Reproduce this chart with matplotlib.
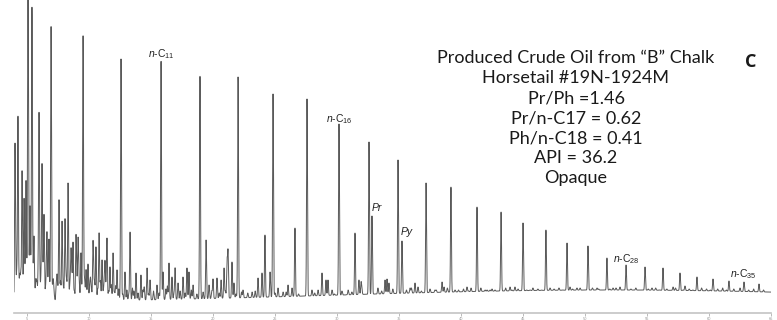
import numpy as np
import matplotlib
matplotlib.use('Agg')
import matplotlib.pyplot as plt

plt.rcParams['mathtext.fontset'] = 'custom'
plt.rcParams['mathtext.rm'] = 'Liberation Sans'
plt.rcParams['mathtext.it'] = 'Liberation Sans:italic'

# retention time (min) and apex response of the resolved peaks
main_rt = [5.08, 5.40, 6.94, 9.52, 12.58, 15.81, 18.95, 22.02, 24.84, 27.58,
           30.16, 32.58, 32.82, 34.92, 35.24, 37.18, 39.19, 41.29, 43.23, 45.00,
           46.85, 48.55, 50.24, 51.77, 53.31, 54.84, 56.29, 57.66, 59.03, 60.32,
           61.61, 62.82, 64.03]
main_h = [330, 285, 276, 262, 244, 242, 227, 226, 209, 204,
          179, 161, 87, 143, 62, 120, 116, 96, 91, 80,
          73, 60, 57, 45, 38, 36, 35, 30, 26, 24,
          22, 21, 19]

# smaller peaks between the n-alkanes
minor_rt = [4.03, 4.27, 4.60, 4.76, 4.92, 5.24, 5.56, 5.97, 6.21, 6.37,
            6.61, 6.77, 7.58, 7.82, 8.06, 8.31, 8.55, 8.71, 8.95, 9.11,
            9.35, 9.76, 9.92, 10.32, 10.56, 10.81, 11.05, 11.29, 11.45, 11.69,
            11.94, 12.26, 12.90, 13.31, 13.79, 14.19, 14.68, 14.92, 15.48, 15.97,
            16.45, 16.69, 16.94, 17.18, 17.58, 17.90, 18.06, 18.39, 19.44, 19.68,
            20.00, 20.32, 20.65, 20.89, 21.13, 21.21, 21.53, 21.69, 22.42, 23.15,
            23.63, 23.95, 24.19, 24.60, 25.24, 25.65, 26.05, 26.37, 26.61, 27.98,
            28.47, 28.79, 29.11, 29.27, 29.60, 30.65, 31.45, 31.77, 31.94, 33.87,
            34.03, 34.19, 35.89, 36.29, 36.53, 37.90, 38.47, 38.63, 39.52, 40.48,
            40.81, 41.94, 42.34, 42.74, 43.95, 44.35, 45.56, 47.18, 48.79, 49.35,
            50.97, 52.26, 52.82, 55.40, 57.10, 58.06]
minor_h = [157, 185, 131, 103, 118, 93, 65, 186, 137, 85,
           66, 61, 103, 78, 81, 120, 50, 60, 66, 55,
           50, 33, 38, 58, 56, 70, 43, 40, 63, 36,
           50, 33, 31, 71, 30, 28, 35, 23, 18, 31,
           40, 26, 35, 20, 26, 35, 31, 18, 63, 18,
           24, 25, 23, 35, 41, 51, 41, 20, 13, 11,
           25, 30, 68, 31, 15, 11, 18, 15, 75, 13,
           13, 30, 23, 23, 13, 8, 70, 23, 20, 23,
           24, 20, 15, 20, 16, 13, 21, 16, 13, 16,
           15, 13, 13, 13, 16, 16, 13, 15, 16, 15,
           15, 15, 16, 15, 16, 17]

# unresolved "grass" near the baseline in the light end
grass_rt = [4.10, 4.18, 4.35, 4.42, 4.50, 4.68, 4.85, 5.00, 5.15, 5.30,
            5.35, 5.48, 5.65, 5.72, 5.80, 5.90, 6.05, 6.13, 6.30, 6.48,
            6.55, 6.70, 6.85, 7.05, 7.12, 7.20, 7.35, 7.42, 7.48, 7.70,
            7.88, 7.95, 8.13, 8.20, 8.42, 8.48, 8.62, 8.82, 9.02, 9.16,
            9.22, 9.45, 9.58, 9.65, 9.85, 10.05, 10.12, 10.20, 10.38, 10.45,
            10.70, 10.92, 11.15, 11.22, 11.38, 11.58, 11.80, 12.05, 12.15, 12.40,
            12.72, 13.05, 13.20, 13.50, 13.62, 13.95, 14.35, 14.45, 14.80, 15.20,
            15.65, 16.20, 16.32, 16.85, 17.35, 17.75, 18.25, 18.70, 19.20, 19.90,
            20.50, 21.00, 21.85, 22.30, 22.80, 23.40, 25.00, 25.90, 26.90, 28.20,
            29.80]
grass_h = [22, 30, 15, 26, 28, 12, 25, 18, 30, 14,
           26, 24, 10, 22, 20, 28, 16, 24, 26, 12,
           21, 18, 9, 14, 22, 7, 16, 25, 11, 22,
           17, 13, 24, 19, 10, 18, 24, 12, 20, 26,
           15, 11, 19, 21, 9, 17, 23, 12, 20, 19,
           14, 22, 10, 18, 16, 12, 18, 11, 17, 14,
           9, 13, 8, 15, 12, 10, 13, 16, 9, 12,
           10, 14, 17, 9, 12, 10, 13, 9, 11, 12,
           10, 12, 9, 11, 10, 12, 10, 11, 9, 10,
           9]

# small ripples on the baseline of the heavy end
ripple_rt = [30.40, 30.90, 31.20, 32.00, 33.30, 33.60, 34.50, 35.60, 36.00, 36.80,
             37.50, 38.00, 38.90, 39.80, 40.20, 40.60, 41.60, 42.10, 42.50, 43.00,
             43.60, 44.10, 44.60, 45.30, 45.80, 46.20, 46.50, 47.50, 47.90, 48.20,
             49.00, 49.60, 49.90, 50.60, 51.10, 51.40, 52.00, 52.50, 53.00, 53.70,
             54.10, 54.50, 55.10, 55.70, 56.00, 56.60, 57.30, 57.90, 58.40, 58.70,
             59.40, 59.80, 60.10, 60.70, 61.10, 61.40, 62.00, 62.50, 63.20, 63.60,
             64.40]
ripple_h = [12, 13, 11, 14, 15, 12, 14, 13, 15, 12,
            14, 13, 15, 13, 14, 12, 15, 13, 14, 12,
            15, 13, 14, 13, 15, 14, 13, 14, 15, 13,
            14, 15, 13, 15, 14, 13, 14, 15, 13, 14,
            15, 13, 14, 15, 13, 14, 15, 13, 14, 13,
            15, 14, 13, 14, 15, 13, 14, 15, 13, 14,
            13]

# broad unresolved hump / column bleed
ucm_rt = 52.0
ucm_width = 22.0
ucm_h = 13.0

annotation = ['Produced Crude Oil from \u201cB\u201d Chalk',
              'Horsetail #19N-1924M',
              'Pr/Ph =1.46',
              'Pr/n-C17 = 0.62',
              'Ph/n-C18 = 0.41',
              'API = 36.2',
              'Opaque']

t = np.arange(3.9, 65.1, 0.004)


def hump(x):
    return ucm_h * np.exp(-0.5 * ((x - ucm_rt) / ucm_width) ** 2)


signal = hump(t)
sigma = 0.035
for rts, hs in [(main_rt, main_h), (minor_rt, minor_h),
                (grass_rt, grass_h), (ripple_rt, ripple_h)]:
    for rt, h in zip(rts, hs):
        amp = h - hump(rt)
        signal = signal + amp * np.exp(-0.5 * ((t - rt) / sigma) ** 2)

fig = plt.figure(figsize=(7.77, 3.2), dpi=100)
ax = fig.add_axes([14 / 777, 7 / 320, 757 / 777, 313 / 320])
ax.plot(t, signal, color='#5a5a5a', lw=0.7)
ax.set_xlim(3.95, 65.0)
ax.set_ylim(-10, 303)

for s in ['top', 'left', 'right']:
    ax.spines[s].set_visible(False)
ax.spines['bottom'].set_color('#c4c4c4')
ax.spines['bottom'].set_linewidth(1.2)
ax.set_yticks([])
ax.set_xticks(np.arange(5, 66, 5))
ax.tick_params(axis='x', length=2.5, width=0.6, color='#b0b0b0',
               labelsize=2.5, labelcolor='#999999', pad=0.5)

lab = dict(ha='center', va='center', fontsize=7.5, color='#222222',
           family='Liberation Sans')
ax.text(15.81, 249, r'$\mathit{n}$-C$_{11}$', **lab)
ax.text(30.16, 184, r'$\mathit{n}$-C$_{16}$', **lab)
ax.text(53.35, 44, r'$\mathit{n}$-C$_{28}$', **lab)
ax.text(62.75, 29, r'$\mathit{n}$-C$_{35}$', **lab)
ax.text(33.2, 95, 'Pr', style='italic', ha='center', va='center',
        fontsize=7.5, color='#222222', family='Liberation Sans')
ax.text(35.6, 71, 'Py', style='italic', ha='center', va='center',
        fontsize=7.5, color='#222222', family='Liberation Sans')

for i, line in enumerate(annotation):
    fig.text(576 / 777, 1 - (58 + 20 * i) / 320, line, ha='center', va='center',
             fontsize=13, family='Lato', color='#1a1a1a')
fig.text(751 / 777, 1 - 62 / 320, 'C', ha='center', va='center',
         fontsize=13, fontweight='bold', family='Open Sans', color='#1a1a1a')

fig.savefig('out.png', dpi=100)
